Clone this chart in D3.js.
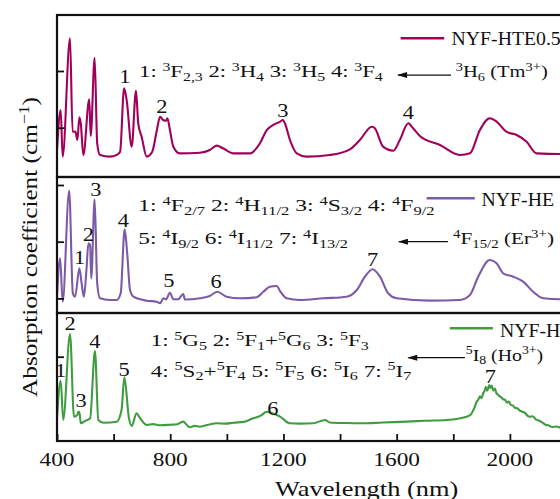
<!DOCTYPE html>
<html><head><meta charset="utf-8">
<script src="https://cdn.jsdelivr.net/npm/d3@7/dist/d3.min.js"></script>
<style>
body{margin:0;background:#fff}
svg{display:block}
text{font-family:"Liberation Serif","Times New Roman",serif;white-space:pre;fill:#111}
</style>
</head><body>
<svg id="c" width="560" height="499"></svg>
<script>
// ---------- DATA ----------
// Panel 1: NYF-HTE0.5 (Tm3+)
const wlTm  = [400,413,420,446,455,465,472,479,484,493,514,519,533,542,552,587,611,623,637,646,664,679,687,699,717,736,753,764,775,785,790,799,811,834,905,940,964,986,1022,1082,1117,1141,1164,1188,1198,1205,1223,1247,1282,1364,1435,1470,1512,1523,1552,1588,1611,1641,1658,1682,1753,1823,1859,1894,1929,1953,1988,2024,2059,2094,2177,2230];
const absTm = [0.607,1.312,0.489,2.577,0.929,0.93,0.783,1.183,1.078,0.519,1.50,0.854,2.235,0.725,0.519,0.489,0.52,0.577,1.695,1.49,0.665,1.653,1.078,0.84,0.489,0.57,0.96,1.194,1.136,1.123,1.166,0.96,0.665,0.548,0.559,0.607,0.683,0.637,0.548,0.548,0.725,0.959,1.048,1.106,1.136,1.078,0.783,0.548,0.489,0.519,0.619,0.783,1.018,0.99,0.665,0.594,0.783,1.078,0.99,0.854,0.695,0.519,0.548,0.959,1.166,1.106,0.929,0.871,0.753,0.548,0.536,0.536];
// Panel 2: NYF-HE (Er3+)
const wlEr  = [400,411,420,443,456,464,479,487,495,504,511,517,521,533,542,552,587,611,625,639,648,658,670,717,752,764,776,785,799,811,828,846,852,905,940,966,999,1046,1105,1129,1152,1176,1188,1211,1258,1341,1423,1459,1488,1515,1541,1570,1600,1717,1823,1859,1888,1929,1953,1976,2012,2047,2082,2118,2177,2230];
const absEr = [0.03,0.707,-0.058,1.899,0.09,0.03,0.531,0.266,0.03,0.5,0.972,0.942,0.354,1.748,0.266,0.002,-0.028,-0.028,0.09,1.219,0.795,0.148,0.03,-0.04,-0.058,-0.086,0.002,-0.016,0.1,-0.016,-0.016,0.078,-0.02,0.002,0.042,0.118,0.03,0.002,0.019,0.118,0.206,0.219,0.13,0.002,-0.028,0.002,0.03,0.148,0.383,0.513,0.383,0.09,0.002,-0.04,-0.028,0.06,0.383,0.677,0.619,0.443,0.383,0.295,0.118,0.002,-0.016,-0.016];
// Panel 3: NYF-H (Ho3+)
const wlHo  = [400,413,422,446,460,472,475,479,484,499,517,534,546,564,611,628,638,654,664,681,693,717,740,765,800,825,846,858,870,885,905,935,964,995,1023,1060,1093,1120,1141,1159,1188,1223,1260,1305,1347,1364,1420,1482,1550,1635,1700,1776,1847,1862,1870,1877,1882,1888,1894,1900,1906,1911,1915,1919,1923,1927,1931,1936,1941,1947,1952,1958,1964,1970,1976,1983,1990,1996,2003,2010,2018,2026,2035,2044,2053,2062,2071,2080,2090,2099,2108,2117,2126,2135,2150,2165,2177,2200,2230];
const absHo = [-0.086,0.577,-0.116,1.40,-0.058,-0.028,0.025,0.03,-0.175,-0.134,-0.086,1.106,-0.116,-0.164,-0.146,0.06,0.637,-0.08,-0.222,0.002,-0.08,-0.205,-0.19,-0.21,-0.2,-0.19,-0.146,-0.2,-0.245,-0.22,-0.235,-0.2,-0.175,-0.18,-0.164,-0.15,-0.086,-0.04,0.03,0.007,-0.058,-0.175,-0.18,-0.175,-0.116,-0.16,-0.17,-0.175,-0.16,-0.146,-0.13,-0.116,-0.058,-0.02,0.05,0.13,0.2,0.24,0.3,0.27,0.36,0.40,0.47,0.40,0.44,0.50,0.45,0.49,0.40,0.44,0.36,0.33,0.30,0.28,0.25,0.24,0.19,0.21,0.15,0.14,0.10,0.09,0.05,0.03,0.01,-0.04,-0.06,-0.05,-0.10,-0.12,-0.14,-0.17,-0.20,-0.21,-0.24,-0.23,-0.25,-0.24,-0.22];

const seriesNames = ["NYF-HTE0.5","NYF-HE","NYF-H"];
const xTickValues = [400,600,800,1000,1200,1400,1600,1800,2000,2200];
const xTickLabels = [400,800,1200,1600,2000];
const xLabel = "Wavelength (nm)";
const yLabel = "Absorption coefficient (cm^{\u22121})";

// transitions text
const transTm = ["1: ^{3}F_{2,3} 2: ^{3}H_{4} 3: ^{3}H_{5} 4: ^{3}F_{4}"];
const groundTm = "^{3}H_{6} (Tm^{3+})";
const transEr = ["1: ^{4}F_{2/7} 2: ^{4}H_{11/2} 3: ^{4}S_{3/2} 4: ^{4}F_{9/2}", "5: ^{4}I_{9/2} 6: ^{4}I_{11/2} 7: ^{4}I_{13/2}"];
const groundEr = "^{4}F_{15/2} (Er^{3+})";
const transHo = ["1: ^{5}G_{5} 2: ^{5}F_{1}+^{5}G_{6} 3: ^{5}F_{3}", "4: ^{5}S_{2}+^{5}F_{4} 5: ^{5}F_{5} 6: ^{5}I_{6} 7: ^{5}I_{7}"];
const groundHo = "^{5}I_{8} (Ho^{3+})";
// peak labels [label, wavelength, value]
const peaksTm = [["1",640,1.79],["2",770,1.254],["3",1198,1.189],["4",1641,1.148]];
const peaksEr = [["1",480,0.607],["2",511,1.018],["3",537,1.806],["4",634,1.254],["5",795,0.206],["6",962,0.178],["7",1515,0.571]];
const peaksHo = [["1",413,0.647],["2",446,1.471],["3",485,0.118],["4",534,1.148],["5",637,0.66],["6",1163,-0.028],["7",1931,0.54]];

// ---------- LAYOUT ----------
const svg = d3.select("#c");
const x = d3.scaleLinear([400, 2200], [57, 566.5]);
const FONT_ANN = 17, FONT_PEAK = 19.5, FONT_LEG = 18.5;

const panels = [
  {top:15, bottom:177, domain:[0.1305,2.9877], yTicks:[1,2], color:"#a1005a", wl:wlTm, ab:absTm,
   name:seriesNames[0], peaks:peaksTm, trans:transTm, transPos:[[690,1.894,1552]], ground:groundTm, groundPos:[1809,1.894,2134],
   arrow:[1792,1605,1.929], leg:[1614,1768,2.577], legText:[1794,2.459]},
  {top:177, bottom:313, domain:[-0.2575,2.141], yTicks:[0,1,2], color:"#7d5aa8", wl:wlEr, ab:absEr,
   name:seriesNames[1], peaks:peaksEr, trans:transEr, transPos:[[687,1.541,1735],[687,0.959,1429]], ground:groundEr, groundPos:[1799,0.959,2156],
   arrow:[1781,1608,1.0], leg:[1706,1876,1.765], legText:[1900,1.63]},
  {top:313, bottom:441, domain:[-0.487,1.7707], yTicks:[1], color:"#3f9c3f", wl:wlHo, ab:absHo,
   name:seriesNames[2], peaks:peaksHo, trans:transHo, transPos:[[731,1.189,1502],[731,0.647,1653]], ground:groundHo, groundPos:[1844,0.93,2118],
   arrow:[1841,1641,0.982], leg:[1788,1940,1.501], legText:[1965,1.353]}
];

// rich text with ^{..} and _{..}
function rich(g, str, F) {
  const t = g.append("text").attr("font-size", F);
  const re = /([\^_])\{([^}]*)\}|([^\^_]+)/g;
  let m, cur = 0;
  while ((m = re.exec(str))) {
    let txt, shift, fs;
    if (m[1]) { txt = m[2]; shift = m[1] === "^" ? -0.38*F : 0.22*F; fs = 0.7*F; }
    else { txt = m[3]; shift = 0; fs = F; }
    t.append("tspan").attr("dy", (shift - cur).toFixed(2)).attr("font-size", fs).text(txt);
    cur = shift;
  }
  return t;
}
function fit(t, px, py, width, anchor, sxFixed) {
  t.attr("text-anchor", anchor || "start");
  let sx = sxFixed || 1;
  if (width) { const w = t.node().getBBox().width; sx = width / w; }
  t.attr("transform", `translate(${px},${py}) scale(${sx},1)`);
  return sx;
}

svg.append("defs").append("marker").attr("id","arr")
  .attr("viewBox","0 0 10 6").attr("refX",9).attr("refY",3)
  .attr("markerWidth",11).attr("markerHeight",6).attr("markerUnits","userSpaceOnUse")
  .attr("orient","auto").append("path").attr("d","M0,0 L10,3 L0,6 Z").attr("fill","#111");

let legSx = null;
panels.forEach((p, i) => {
  const y = d3.scaleLinear(p.domain, [p.bottom, p.top]);
  const g = svg.append("g");
  const cid = "clip" + i;
  svg.select("defs").append("clipPath").attr("id", cid).append("rect")
    .attr("x", x.range()[0]).attr("y", p.top).attr("width", x.range()[1]-x.range()[0]).attr("height", p.bottom-p.top);
  const data = d3.zip(p.wl, p.ab);
  g.append("path").datum(data).attr("clip-path", `url(#${cid})`)
    .attr("fill","none").attr("stroke", p.color).attr("stroke-width", 2.1).attr("stroke-linejoin","round")
    .attr("d", d3.line().x(d => x(d[0])).y(d => y(d[1])).curve(d3.curveMonotoneX));
  // y ticks (inward)
  const ya = g.append("g").attr("transform", `translate(${x.range()[0]},0)`)
    .call(d3.axisLeft(y).tickValues(p.yTicks).tickSize(-7).tickFormat(""));
  ya.select(".domain").remove();
  ya.selectAll("line").attr("stroke","#111").attr("stroke-width",1.8);
  // frame
  g.append("rect").attr("x", x.range()[0]).attr("y", p.top)
    .attr("width", x.range()[1]-x.range()[0]).attr("height", p.bottom-p.top)
    .attr("fill","none").attr("stroke","#111").attr("stroke-width",2.2);
  // peak labels
  p.peaks.forEach(([lab, w, v]) => {
    const t = g.append("text").attr("font-size", FONT_PEAK).text(lab);
    fit(t, x(w), y(v), null, "middle", 1.15);
  });
  // transitions
  p.trans.forEach((s, k) => {
    const [w0, v, w1] = p.transPos[k];
    fit(rich(g, s, FONT_ANN), x(w0), y(v), x(w1) - x(w0));
  });
  const [gw0, gv, gw1] = p.groundPos;
  fit(rich(g, p.ground, FONT_ANN), x(gw0), y(gv), x(gw1) - x(gw0));
  // arrow
  g.append("line").attr("x1", x(p.arrow[0])).attr("x2", x(p.arrow[1]))
    .attr("y1", y(p.arrow[2])).attr("y2", y(p.arrow[2]))
    .attr("stroke","#111").attr("stroke-width",1.3).attr("marker-end","url(#arr)");
  // legend
  g.append("line").attr("x1", x(p.leg[0])).attr("x2", x(p.leg[1]))
    .attr("y1", y(p.leg[2])).attr("y2", y(p.leg[2]))
    .attr("stroke", p.color).attr("stroke-width", 2.4);
  p._y = y; p._g = g;
});
// legend texts: fit NYF-HE width, reuse the scale
{
  const p = panels[1];
  const t = p._g.append("text").attr("font-size", FONT_LEG).text(p.name);
  legSx = fit(t, x(p.legText[0]), p._y(p.legText[1]), x(2156) - x(p.legText[0]));
}
[0,2].forEach(i => {
  const p = panels[i];
  const t = p._g.append("text").attr("font-size", FONT_LEG).text(p.name);
  fit(t, x(p.legText[0]), p._y(p.legText[1]), null, "start", legSx);
});

// x axis (bottom of last panel)
const bottomY = panels[2].bottom;
const xa = svg.append("g").attr("transform", `translate(0,${bottomY})`)
  .call(d3.axisBottom(x).tickValues(xTickValues).tickSize(-7).tickFormat(""));
xa.select(".domain").remove();
xa.selectAll("line").attr("stroke","#111").attr("stroke-width",1.8);
// tick labels
let tickSx;
{
  const t = svg.append("text").attr("font-size", 18.5).text("1200");
  tickSx = 46.7 / t.node().getBBox().width;
  t.remove();
}
xTickLabels.forEach(v => {
  const t = svg.append("text").attr("font-size", 18.5).text(String(v));
  fit(t, x(v), bottomY + 25, null, "middle", tickSx);
});
// x label
fit(svg.append("text").attr("font-size", 20).text(xLabel), x(1170), bottomY + 55, x(1818) - x(1170));
// y label
{
  const t = rich(svg, yLabel, 21).attr("text-anchor","middle");
  const L = t.node().getBBox().width;
  t.attr("transform", `translate(37,247) rotate(-90) scale(${300/L},1)`);
}
</script>
</body></html>
